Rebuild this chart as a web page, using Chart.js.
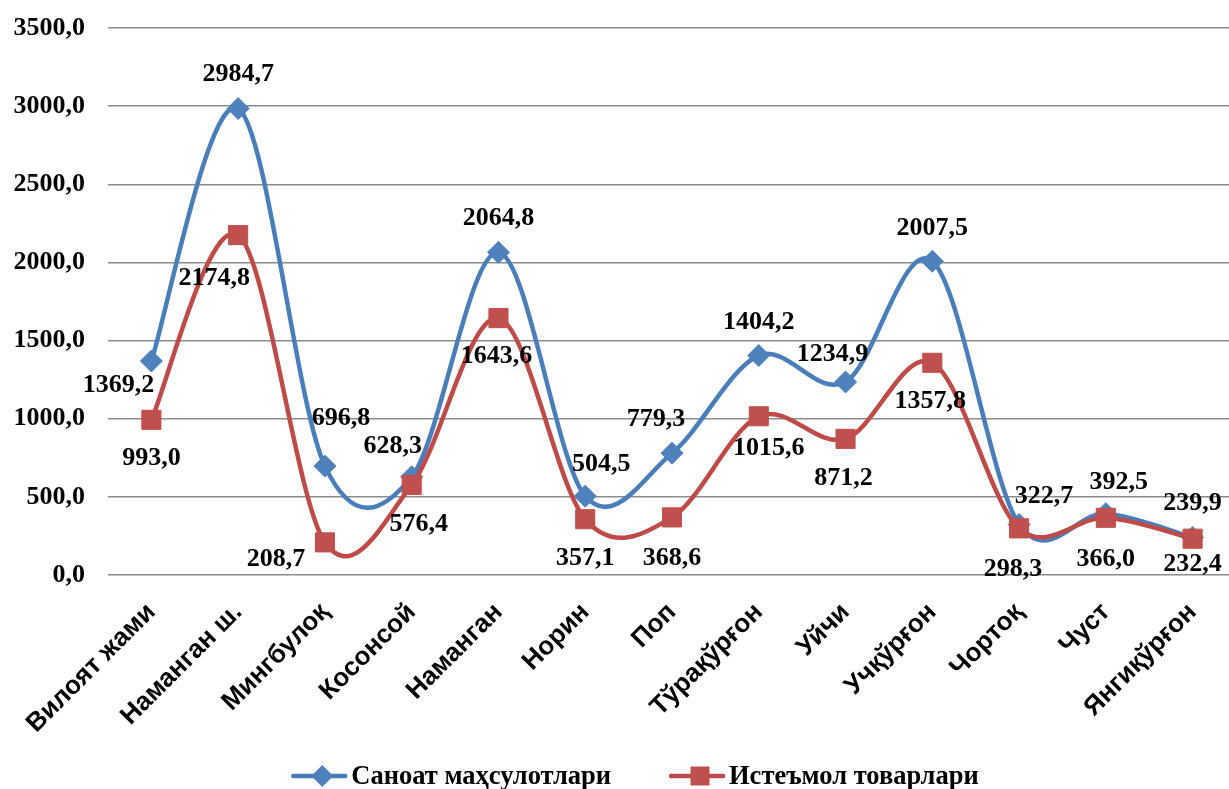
<!DOCTYPE html>
<html><head><meta charset="utf-8">
<script src="https://cdn.jsdelivr.net/npm/chart.js@4.4.1/dist/chart.umd.min.js"></script>
<style>html,body{margin:0;padding:0;background:#fff;overflow:hidden;} #wrap{width:1236px;height:789px;}</style>
</head><body><div id="wrap"><canvas id="c" width="1236" height="789"></canvas></div>
<script>
const categories = ['Вилоят жами', 'Наманган ш.', 'Мингбулоқ', 'Косонсой', 'Наманган', 'Норин', 'Поп', 'Тўрақўрғон', 'Уйчи', 'Учқўрғон', 'Чортоқ', 'Чуст', 'Янгиқўрғон'];
const industrialProducts = [1369.2, 2984.7, 696.8, 628.3, 2064.8, 504.5, 779.3, 1404.2, 1234.9, 2007.5, 322.7, 392.5, 239.9];
const consumerGoods = [993.0, 2174.8, 208.7, 576.4, 1643.6, 357.1, 368.6, 1015.6, 871.2, 1357.8, 298.3, 366.0, 232.4];
const seriesNames = ['Саноат маҳсулотлари', 'Истеъмол товарлари'];
const yTickValues = [0, 500, 1000, 1500, 2000, 2500, 3000, 3500];

// label placement (pixel offsets from each point), kept apart from the data
const labelOffsets = [
  [[-33,23],[0,-35],[16,-49],[-19,-32],[0,-35],[16,-33],[-16,-35],[0,-34],[-13,-29],[0,-34],[25,-29],[13,-32],[0,-35]],
  [[0,37],[-24,42],[-49,16],[7,38],[-2,37],[0,38],[0,40],[10,31],[-2,38],[-2,37],[-6,40],[0,40],[0,25]]
];

const BLUE = '#4A7EBB', BLUE_M = '#4F81BD', RED = '#BE4B48', RED_M = '#C0504D';
const fmt = v => v.toFixed(1).replace('.', ',');

function drawMarker(ctx, kind, cx, cy, color) {
  ctx.fillStyle = color;
  if (kind === 'rectRot') {
    ctx.beginPath(); ctx.moveTo(cx, cy - 11); ctx.lineTo(cx + 11, cy); ctx.lineTo(cx, cy + 11); ctx.lineTo(cx - 11, cy); ctx.closePath(); ctx.fill();
  } else {
    ctx.fillRect(cx - 9.5, cy - 9.5, 19, 19);
  }
}

const excelSmooth = {
  id: 'excelSmooth',
  beforeDatasetDraw(chart, args) {
    const line = args.meta.dataset, pts = args.meta.data;
    if (!line || !pts.length) return;
    if (line.updateControlPoints) line.updateControlPoints(chart.chartArea, 'x');
    const k = 1 / 6;
    for (let i = 0; i < pts.length; i++) {
      const p = pts[i], p0 = pts[i - 1] || p, p2 = pts[i + 1] || p;
      const dx = (p2.x - p0.x) * k, dy = (p2.y - p0.y) * k;
      p.cp1x = p.x - dx; p.cp1y = p.y - dy;
      p.cp2x = p.x + dx; p.cp2y = p.y + dy;
    }
    line._path = undefined;
  }
};

const valueLabels = {
  id: 'valueLabels',
  afterDatasetsDraw(chart) {
    const ctx = chart.ctx;
    ctx.save();
    ctx.font = 'bold 26px "Liberation Serif"';
    ctx.fillStyle = '#000';
    ctx.textAlign = 'center';
    ctx.textBaseline = 'middle';
    chart.data.datasets.forEach((ds, di) => {
      const meta = chart.getDatasetMeta(di);
      meta.data.forEach((pt, i) => {
        const o = labelOffsets[di][i];
        ctx.fillText(fmt(ds.data[i]), pt.x + o[0], pt.y + o[1] + 1);
      });
    });
    ctx.restore();
  }
};

const bottomLegend = {
  id: 'bottomLegend',
  afterDraw(chart) {
    const ctx = chart.ctx;
    ctx.save();
    ctx.font = 'bold 26.5px "Liberation Serif"';
    ctx.textBaseline = 'middle';
    ctx.textAlign = 'left';
    const cy = 776, lineLen = 56, textGap = 4, itemGap = 58, centerX = 635;
    const items = chart.data.datasets.map(ds => ({ ds, w: ctx.measureText(ds.label).width }));
    const total = items.reduce((s, it) => s + lineLen + textGap + it.w, 0) + itemGap * (items.length - 1);
    let x = centerX - total / 2;
    items.forEach(({ ds, w }) => {
      ctx.strokeStyle = ds.borderColor; ctx.lineWidth = 4.5; ctx.lineCap = 'round';
      ctx.beginPath(); ctx.moveTo(x + 2, cy); ctx.lineTo(x + lineLen - 2, cy); ctx.stroke();
      drawMarker(ctx, ds.pointStyle, x + lineLen / 2 + 3, cy, ds.pointBackgroundColor);
      ctx.fillStyle = '#000';
      ctx.fillText(ds.label, x + lineLen + textGap, cy + 1);
      x += lineLen + textGap + w + itemGap;
    });
    ctx.restore();
  }
};

new Chart(document.getElementById('c'), {
  type: 'line',
  data: {
    labels: categories,
    datasets: [
      { label: seriesNames[0], data: industrialProducts, borderColor: BLUE, backgroundColor: BLUE_M,
        borderWidth: 4.5, pointStyle: 'rectRot', pointRadius: 11, pointBackgroundColor: BLUE_M, pointBorderColor: BLUE_M,
        pointBorderWidth: 1, tension: 0.4, order: 1 },
      { label: seriesNames[1], data: consumerGoods, borderColor: RED, backgroundColor: RED_M,
        borderWidth: 4.5, pointStyle: 'rect', pointRadius: 13.5, pointBackgroundColor: RED_M, pointBorderColor: RED_M,
        pointBorderWidth: 1, tension: 0.4, order: 0 }
    ]
  },
  options: {
    responsive: false,
    animation: false,
    devicePixelRatio: 1,
    layout: { padding: { left: 4, right: 0, top: 28, bottom: 44 }, autoPadding: false },
    plugins: {
      tooltip: { enabled: false },
      legend: { display: false }
    },
    scales: {
      x: {
        offset: true,
        grid: { display: false },
        border: { display: false },
        ticks: {
          autoSkip: false, maxRotation: 45, minRotation: 45, padding: 14, color: '#000',
          font: { family: 'Liberation Sans', size: 26, weight: 'bold' }
        },
        afterFit(s) { s.height = 170; s.paddingLeft = 0; s.paddingRight = 0; }
      },
      y: {
        min: 0, max: 3500,
        grid: { color: '#8c8c8c', lineWidth: 1.5, drawTicks: false },
        border: { display: false },
        afterBuildTicks(s) { s.ticks = yTickValues.map(v => ({ value: v })); },
        ticks: {
          padding: 23, color: '#000',
          font: { family: 'Liberation Serif', size: 26, weight: 'bold' },
          callback: v => fmt(v)
        },
        afterFit(s) { s.width = 104; s.paddingTop = 0; s.paddingBottom = 0; }
      }
    }
  },
  plugins: [excelSmooth, valueLabels, bottomLegend]
});
</script></body></html>
